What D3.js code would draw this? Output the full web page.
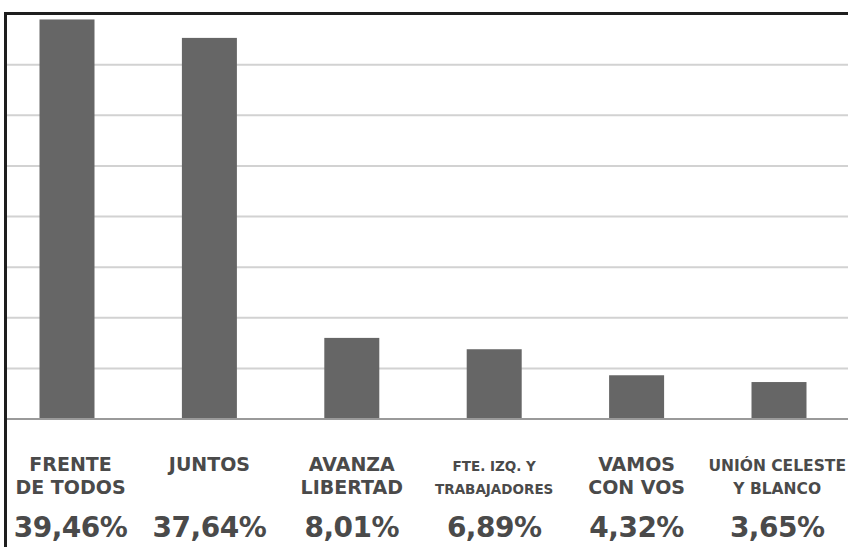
<!DOCTYPE html>
<html>
<head>
<meta charset="utf-8">
<script src="https://cdn.jsdelivr.net/npm/d3@7"></script>
<style>
  body { margin: 0; background: #fff; }
  .canvas text { font-family: "DejaVu Sans", sans-serif; font-weight: bold; fill: #4a4a4a; }
</style>
</head>
<body>
<div class="canvas"></div>
<script>
const parties = ["FRENTE DE TODOS", "JUNTOS", "AVANZA LIBERTAD", "FTE. IZQ. Y TRABAJADORES", "VAMOS CON VOS", "UNIÓN CELESTE Y BLANCO"];
const labelLines = [
  ["FRENTE", "DE TODOS"],
  ["JUNTOS"],
  ["AVANZA", "LIBERTAD"],
  ["FTE. IZQ. Y", "TRABAJADORES"],
  ["VAMOS", "CON VOS"],
  ["UNIÓN CELESTE", "Y BLANCO"]
];
const labelSizes = [19, 19, 19, 13.5, 19, 15.5];
const votes = [39.46, 37.64, 8.01, 6.89, 4.32, 3.65];
const gridTicks = [5, 10, 15, 20, 25, 30, 35];

const W = 848, H = 547;
const baseY = 419, topY = 14, frameX = 5.5, frameY = 13.5;
const barW = 55;

const svg = d3
  .select(".canvas")
  .append("svg")
  .attr("width", W)
  .attr("height", H);

const x = d3.scalePoint().domain(parties).range([67, 779]);
const y = d3.scaleLinear().domain([0, 40]).range([baseY, topY]);

// horizontal gridlines
svg
  .selectAll(".grid")
  .data(gridTicks)
  .join("line")
  .attr("x1", frameX)
  .attr("x2", W)
  .attr("y1", (d) => y(d))
  .attr("y2", (d) => y(d))
  .attr("stroke", "#d2d2d2")
  .attr("stroke-width", 2);

// bars
svg
  .selectAll(".bar")
  .data(votes)
  .join("rect")
  .attr("x", (d, i) => x(parties[i]) - barW / 2)
  .attr("y", (d) => y(d))
  .attr("width", barW)
  .attr("height", (d) => y(0) - y(d))
  .attr("fill", "#666666");

// baseline
svg
  .append("line")
  .attr("x1", frameX)
  .attr("x2", W)
  .attr("y1", y(0))
  .attr("y2", y(0))
  .attr("stroke", "#9a9a9a")
  .attr("stroke-width", 2);

// frame (top + left)
svg
  .append("path")
  .attr("d", `M${frameX},${H} L${frameX},${frameY} L${W},${frameY}`)
  .attr("fill", "none")
  .attr("stroke", "#1e1e1e")
  .attr("stroke-width", 3);

// labels
const groups = svg
  .selectAll(".label")
  .data(parties)
  .join("g")
  .attr("class", "label");

groups.each(function (p, i) {
  const g = d3.select(this);
  const fs = labelSizes[i];
  const widths = [];
  labelLines[i].forEach((t, j) => {
    const line = g
      .append("text")
      .attr("text-anchor", "middle")
      .attr("y", j === 0 ? 471 : 494)
      .style("font-size", `${fs}px`)
      .text(t);
    widths.push(line.node().getBBox().width);
  });
  const pct = g
    .append("text")
    .attr("text-anchor", "middle")
    .attr("y", 537)
    .style("font-size", "28px")
    .style("letter-spacing", "-0.5px")
    .text(d3.format(".2f")(votes[i]).replace(".", ",") + "%");
  widths.push(pct.node().getBBox().width);

  // keep the group inside the frame
  const half = d3.max(widths) / 2;
  let cx = x(p);
  cx = Math.max(cx, frameX + 8 + half);
  cx = Math.min(cx, W - 2 - half);
  g.attr("transform", `translate(${cx},0)`);
});
</script>
</body>
</html>
